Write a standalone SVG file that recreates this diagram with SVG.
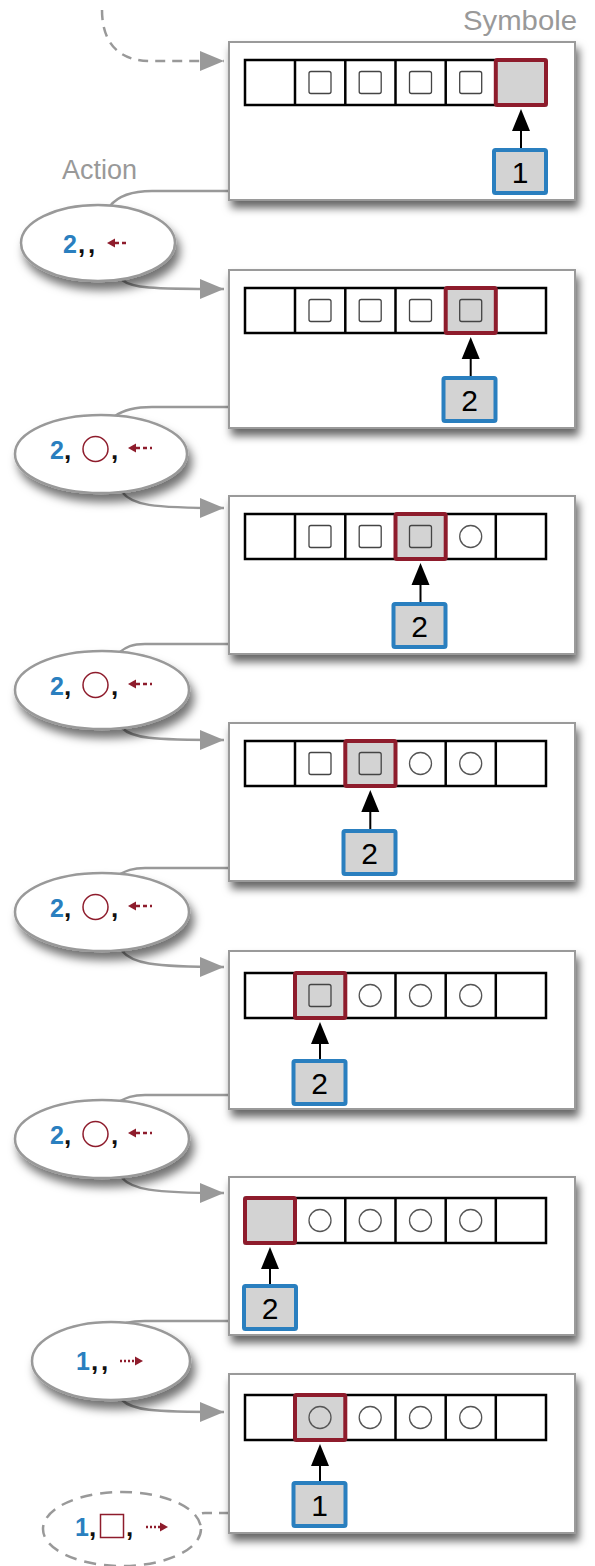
<svg xmlns="http://www.w3.org/2000/svg" width="595" height="1566" viewBox="0 0 595 1566">
<style>
.bg{fill:#ffffff}
.box{fill:#ffffff;stroke:#9a9a9a;stroke-width:2}
.tape{fill:none;stroke:#000;stroke-width:2.5}
.sq{fill:none;stroke:#444;stroke-width:1.3}
.ci{fill:none;stroke:#555;stroke-width:1.3}
.hl{fill:#d3d3d3;stroke:#8e1c2c;stroke-width:4;stroke-linejoin:round}
.head{fill:#d3d3d3;stroke:#2a7fbf;stroke-width:4;stroke-linejoin:round}
.hnum{font-family:"Liberation Sans",Arial,sans-serif;font-size:30px;fill:#000;text-anchor:middle}
.ptr{stroke:#000;stroke-width:2}
.lbl{font-family:"Liberation Sans",Arial,sans-serif;font-size:27px;fill:#999}
.ell{fill:#fff;stroke:#999;stroke-width:2.5}
.elld{fill:#fff;stroke:#999;stroke-width:2.5;stroke-dasharray:12 8}
.st{font-family:"Liberation Sans",Arial,sans-serif;font-size:25px;font-weight:bold;fill:#2a7fbf}
.cm{font-family:"Liberation Sans",Arial,sans-serif;font-size:26px;font-weight:bold;fill:#111}
.rsym{fill:none;stroke:#8e1c2c;stroke-width:1.5}
.ra{stroke:#8e1c2c;stroke-width:2.5;fill:none}
.raf{fill:#8e1c2c}
.con{fill:none;stroke:#999;stroke-width:2.5}
.cond{fill:none;stroke:#999;stroke-width:2.5;stroke-dasharray:10 7}
</style>
<defs>
<filter id="sh" x="-20%" y="-20%" width="150%" height="160%">
<feDropShadow dx="3" dy="7" stdDeviation="4" flood-color="#000" flood-opacity="0.6"/>
</filter>
<filter id="she" x="-20%" y="-30%" width="150%" height="180%">
<feDropShadow dx="4" dy="8" stdDeviation="5" flood-color="#000" flood-opacity="0.55"/>
</filter>
<marker id="ga" markerUnits="userSpaceOnUse" markerWidth="26" markerHeight="22" refX="24" refY="10" orient="auto">
<path d="M0,0 L24,10 L0,20 Z" fill="#999"/>
</marker>
</defs>
<rect class="bg" x="0" y="0" width="595" height="1566"/>

<g id="connectors">
<path class="cond" d="M102,10 C102,42 118,61 150,61 L224,61" marker-end="url(#ga)"/>
<path class="con" d="M229,191 L152,191 C132,191 118,196 110,206"/>
<path class="con" d="M122,280 C132,288 150,289 224,289" marker-end="url(#ga)"/>
<path class="con" d="M229,407 L152,407 C132,407 122,411 115,416"/>
<path class="con" d="M122,492 C132,505 150,508 224,508" marker-end="url(#ga)"/>
<path class="con" d="M229,644 L145,644 C132,644 126,647 120,652"/>
<path class="con" d="M122,728 C132,738 150,740 224,740" marker-end="url(#ga)"/>
<path class="con" d="M229,868 L145,868 C132,868 126,871 120,874"/>
<path class="con" d="M122,951 C132,963 150,967 224,967" marker-end="url(#ga)"/>
<path class="con" d="M229,1095 L145,1095 C132,1095 126,1098 120,1101"/>
<path class="con" d="M122,1178 C132,1189 150,1193 224,1193" marker-end="url(#ga)"/>
<path class="con" d="M229,1321 L145,1321 C135,1321 130,1322 126,1323"/>
<path class="con" d="M122,1400 C132,1410 150,1412 224,1412" marker-end="url(#ga)"/>
<path class="cond" d="M229,1513 L205,1513 C200,1513 198,1515 196,1518"/>
</g>

<g id="labels">
<text class="lbl" x="463" y="30" textLength="114" lengthAdjust="spacingAndGlyphs">Symbole</text>
<text class="lbl" x="62" y="179">Action</text>
<text class="lbl" x="430" y="178">Etat</text>
</g>

<!-- Box 1 -->
<g id="box1">
<rect class="box" x="229" y="42" width="346" height="158" filter="url(#sh)"/>
<rect class="tape" x="245" y="60" width="301" height="45"/>
<path class="tape" d="M295,60V105M345.3,60V105M395.5,60V105M445.7,60V105M495.8,60V105"/>
<rect class="sq" x="309" y="71.5" width="22" height="22" rx="2"/>
<rect class="sq" x="359.2" y="71.5" width="22" height="22" rx="2"/>
<rect class="sq" x="409.5" y="71.5" width="22" height="22" rx="2"/>
<rect class="sq" x="459.7" y="71.5" width="22" height="22" rx="2"/>
<rect class="hl" x="495.8" y="60" width="50.2" height="45" rx="1.5"/>
<line class="ptr" x1="521" y1="150" x2="521" y2="128"/>
<path d="M521,109 L512,131 L530,131 Z"/>
<rect class="head" x="494" y="150" width="52" height="43" rx="1.5"/>
<text class="hnum" x="520" y="183">1</text>
</g>

<!-- Ellipse 1 -->
<g id="action1">
<ellipse class="ell" cx="98" cy="243" rx="77" ry="38" filter="url(#she)"/>
<text class="st" x="63" y="253">2</text>
<text class="cm" x="78" y="253">,</text>
<text class="cm" x="88" y="253">,</text>
<path class="raf" d="M107,243 L115,238.5 L115,247.5 Z"/>
<line class="ra" x1="115" y1="243" x2="129" y2="243" stroke-dasharray="4 3"/>
</g>

<!-- Box 2 -->
<g id="box2">
<rect class="box" x="229" y="270" width="346" height="158" filter="url(#sh)"/>
<rect class="tape" x="245" y="288" width="301" height="45"/>
<path class="tape" d="M295,288V333M345.3,288V333M395.5,288V333M445.7,288V333M495.8,288V333"/>
<rect class="sq" x="309" y="299.5" width="22" height="22" rx="2"/>
<rect class="sq" x="359.2" y="299.5" width="22" height="22" rx="2"/>
<rect class="sq" x="409.5" y="299.5" width="22" height="22" rx="2"/>
<rect class="hl" x="445.7" y="288" width="50.1" height="45" rx="1.5"/>
<rect class="sq" x="459.7" y="299.5" width="22" height="22" rx="2"/>
<line class="ptr" x1="470.7" y1="378" x2="470.7" y2="356"/>
<path d="M470.7,337 L461.7,359 L479.7,359 Z"/>
<rect class="head" x="443.5" y="378" width="52" height="43" rx="1.5"/>
<text class="hnum" x="469.5" y="411">2</text>
</g>

<!-- Ellipse 2 -->
<g id="action2">
<ellipse class="ell" cx="101" cy="454" rx="86" ry="39" filter="url(#she)"/>
<text class="st" x="50" y="459">2</text>
<text class="cm" x="64" y="459">,</text>
<circle class="rsym" cx="95.5" cy="449" r="12.5"/>
<text class="cm" x="111" y="459">,</text>
<path class="raf" d="M128,448 L136,443.5 L136,452.5 Z"/>
<line class="ra" x1="136" y1="448" x2="152" y2="448" stroke-dasharray="4 3"/>
</g>

<!-- Box 3 -->
<g id="box3">
<rect class="box" x="229" y="496" width="346" height="158" filter="url(#sh)"/>
<rect class="tape" x="245" y="514" width="301" height="45"/>
<path class="tape" d="M295,514V559M345.3,514V559M395.5,514V559M445.7,514V559M495.8,514V559"/>
<rect class="sq" x="309" y="525.5" width="22" height="22" rx="2"/>
<rect class="sq" x="359.2" y="525.5" width="22" height="22" rx="2"/>
<rect class="hl" x="395.5" y="514" width="50.2" height="45" rx="1.5"/>
<rect class="sq" x="409.5" y="525.5" width="22" height="22" rx="2"/>
<circle class="ci" cx="470.7" cy="536.5" r="11"/>
<line class="ptr" x1="420.5" y1="604" x2="420.5" y2="582"/>
<path d="M420.5,563 L411.5,585 L429.5,585 Z"/>
<rect class="head" x="393.5" y="604" width="52" height="43" rx="1.5"/>
<text class="hnum" x="419.5" y="637">2</text>
</g>

<!-- Ellipse 3 -->
<g id="action3">
<ellipse class="ell" cx="102" cy="690" rx="87" ry="39" filter="url(#she)"/>
<text class="st" x="50" y="695">2</text>
<text class="cm" x="64" y="695">,</text>
<circle class="rsym" cx="95.5" cy="685" r="12.5"/>
<text class="cm" x="111" y="695">,</text>
<path class="raf" d="M128,684 L136,679.5 L136,688.5 Z"/>
<line class="ra" x1="136" y1="684" x2="152" y2="684" stroke-dasharray="4 3"/>
</g>

<!-- Box 4 -->
<g id="box4">
<rect class="box" x="229" y="723" width="346" height="158" filter="url(#sh)"/>
<rect class="tape" x="245" y="741" width="301" height="45"/>
<path class="tape" d="M295,741V786M345.3,741V786M395.5,741V786M445.7,741V786M495.8,741V786"/>
<rect class="sq" x="309" y="752.5" width="22" height="22" rx="2"/>
<rect class="hl" x="345.3" y="741" width="50.2" height="45" rx="1.5"/>
<rect class="sq" x="359.2" y="752.5" width="22" height="22" rx="2"/>
<circle class="ci" cx="420.5" cy="763.5" r="11"/>
<circle class="ci" cx="470.7" cy="763.5" r="11"/>
<line class="ptr" x1="370.3" y1="831" x2="370.3" y2="809"/>
<path d="M370.3,790 L361.3,812 L379.3,812 Z"/>
<rect class="head" x="343.5" y="831" width="52" height="43" rx="1.5"/>
<text class="hnum" x="369.5" y="864">2</text>
</g>

<!-- Ellipse 4 -->
<g id="action4">
<ellipse class="ell" cx="102" cy="912" rx="87" ry="39" filter="url(#she)"/>
<text class="st" x="50" y="917">2</text>
<text class="cm" x="64" y="917">,</text>
<circle class="rsym" cx="95.5" cy="907" r="12.5"/>
<text class="cm" x="111" y="917">,</text>
<path class="raf" d="M128,906 L136,901.5 L136,910.5 Z"/>
<line class="ra" x1="136" y1="906" x2="152" y2="906" stroke-dasharray="4 3"/>
</g>

<!-- Box 5 -->
<g id="box5">
<rect class="box" x="229" y="951" width="346" height="158" filter="url(#sh)"/>
<rect class="tape" x="245" y="973" width="301" height="45"/>
<path class="tape" d="M295,973V1018M345.3,973V1018M395.5,973V1018M445.7,973V1018M495.8,973V1018"/>
<rect class="hl" x="295" y="973" width="50.3" height="45" rx="1.5"/>
<rect class="sq" x="309" y="984.5" width="22" height="22" rx="2"/>
<circle class="ci" cx="370.2" cy="995.5" r="11"/>
<circle class="ci" cx="420.5" cy="995.5" r="11"/>
<circle class="ci" cx="470.7" cy="995.5" r="11"/>
<line class="ptr" x1="320" y1="1061" x2="320" y2="1041"/>
<path d="M320,1022 L311,1044 L329,1044 Z"/>
<rect class="head" x="293.5" y="1061" width="52" height="43" rx="1.5"/>
<text class="hnum" x="319.5" y="1094">2</text>
</g>

<!-- Ellipse 5 -->
<g id="action5">
<ellipse class="ell" cx="102" cy="1139" rx="87" ry="39" filter="url(#she)"/>
<text class="st" x="50" y="1144">2</text>
<text class="cm" x="64" y="1144">,</text>
<circle class="rsym" cx="95.5" cy="1134" r="12.5"/>
<text class="cm" x="111" y="1144">,</text>
<path class="raf" d="M128,1133 L136,1128.5 L136,1137.5 Z"/>
<line class="ra" x1="136" y1="1133" x2="152" y2="1133" stroke-dasharray="4 3"/>
</g>

<!-- Box 6 -->
<g id="box6">
<rect class="box" x="229" y="1177" width="346" height="158" filter="url(#sh)"/>
<rect class="tape" x="245" y="1198" width="301" height="45"/>
<path class="tape" d="M295,1198V1243M345.3,1198V1243M395.5,1198V1243M445.7,1198V1243M495.8,1198V1243"/>
<circle class="ci" cx="320" cy="1220.5" r="11"/>
<circle class="ci" cx="370.2" cy="1220.5" r="11"/>
<circle class="ci" cx="420.5" cy="1220.5" r="11"/>
<circle class="ci" cx="470.7" cy="1220.5" r="11"/>
<rect class="hl" x="245" y="1198" width="50" height="45" rx="1.5"/>
<line class="ptr" x1="270" y1="1286" x2="270" y2="1266"/>
<path d="M270,1247 L261,1269 L279,1269 Z"/>
<rect class="head" x="244" y="1286" width="52" height="43" rx="1.5"/>
<text class="hnum" x="270" y="1319">2</text>
</g>

<!-- Ellipse 6 -->
<g id="action6">
<ellipse class="ell" cx="111" cy="1361" rx="79" ry="39" filter="url(#she)"/>
<text class="st" x="76" y="1370">1</text>
<text class="cm" x="91" y="1370">,</text>
<text class="cm" x="101" y="1370">,</text>
<line class="ra" x1="120" y1="1361" x2="135" y2="1361" stroke-dasharray="2 2"/>
<path class="raf" d="M143,1361 L135,1356.5 L135,1365.5 Z"/>
</g>

<!-- Box 7 -->
<g id="box7">
<rect class="box" x="229" y="1374" width="346" height="159" filter="url(#sh)"/>
<rect class="tape" x="245" y="1395" width="301" height="45"/>
<path class="tape" d="M295,1395V1440M345.3,1395V1440M395.5,1395V1440M445.7,1395V1440M495.8,1395V1440"/>
<rect class="hl" x="295" y="1395" width="50.3" height="45" rx="1.5"/>
<circle class="ci" cx="320" cy="1417.5" r="11"/>
<circle class="ci" cx="370.2" cy="1417.5" r="11"/>
<circle class="ci" cx="420.5" cy="1417.5" r="11"/>
<circle class="ci" cx="470.7" cy="1417.5" r="11"/>
<line class="ptr" x1="320" y1="1483" x2="320" y2="1463"/>
<path d="M320,1444 L311,1466 L329,1466 Z"/>
<rect class="head" x="293.5" y="1483" width="52" height="43" rx="1.5"/>
<text class="hnum" x="319.5" y="1516">1</text>
</g>

<!-- Ellipse 7 (dashed) -->
<g id="action7">
<ellipse class="elld" cx="122" cy="1529" rx="79" ry="37"/>
<text class="st" x="75" y="1536">1</text>
<text class="cm" x="89" y="1536">,</text>
<rect class="rsym" x="100.5" y="1514.5" width="23" height="23"/>
<text class="cm" x="126" y="1536">,</text>
<line class="ra" x1="146" y1="1527" x2="160" y2="1527" stroke-dasharray="2 2"/>
<path class="raf" d="M168,1527 L160,1522.5 L160,1531.5 Z"/>
</g>
</svg>
